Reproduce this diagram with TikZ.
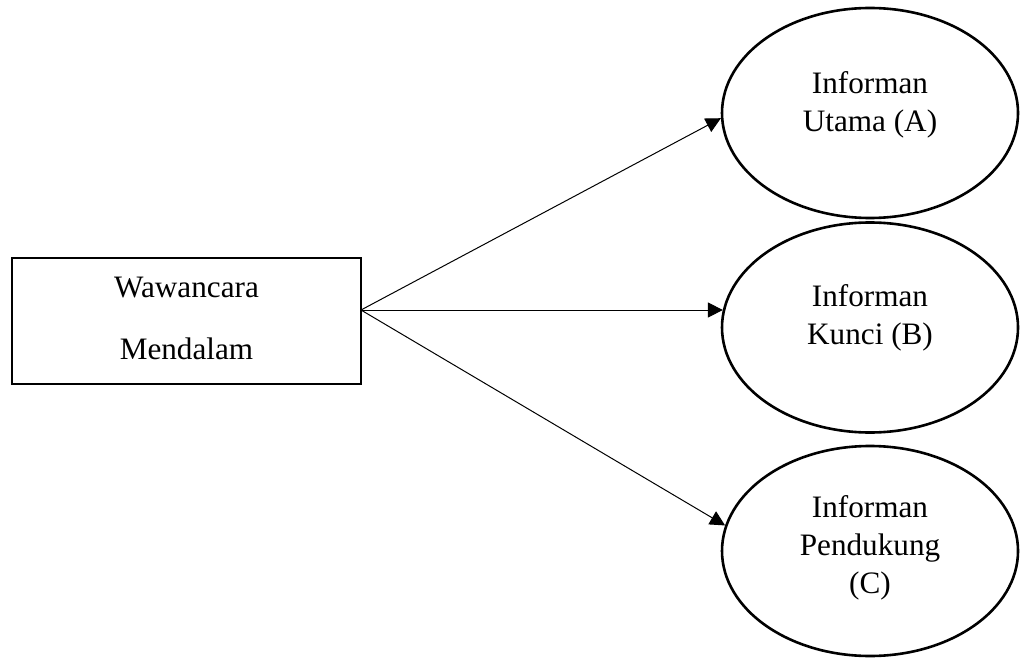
\documentclass[tikz,border=0pt]{standalone}
\usepackage{fontspec}
\setmainfont{Liberation Serif}
\usetikzlibrary{arrows.meta,shapes.geometric}
\begin{document}
\begin{tikzpicture}[x=0.5pt,y=-0.5pt,
  infobox/.style={draw,ellipse,line width=1.3pt,minimum width=148pt,minimum height=105pt,inner sep=0pt},
  srcbox/.style={draw,rectangle,line width=1.3pt,minimum width=174.5pt,minimum height=63pt,inner sep=0pt},
  txt/.style={align=center,inner sep=0pt,font=\fontsize{15.6}{19}\selectfont},
  srctxt/.style={align=center,inner sep=0pt,font=\fontsize{15.6}{31}\selectfont},
  conn/.style={line width=0.5pt,-{Triangle[length=7.5pt,width=7.5pt]}}]
\useasboundingbox (0,0) rectangle (1020,657);
\node[srcbox] (W) at (186.5,321) {};
\node[srctxt] (Wt) at (186.5,318.5) {Wawancara\\Mendalam};
\node[infobox] (A) at (870,113) {};
\node[txt] (At) at (870,105) {Informan\\Utama (A)};
\node[infobox] (B) at (870,327.5) {};
\node[txt] (Bt) at (870,318) {Informan\\Kunci (B)};
\node[infobox] (C) at (870,551) {};
\node[txt] (Ct) at (870,547.6) {Informan\\Pendukung\\(C)};
\coordinate (s) at (361,310);
\draw[conn] (s) -- (A.182);
\draw[conn] (s) -- (s -| B.173.4);
\draw[conn] (s) -- (C.170);
\end{tikzpicture}
\end{document}
